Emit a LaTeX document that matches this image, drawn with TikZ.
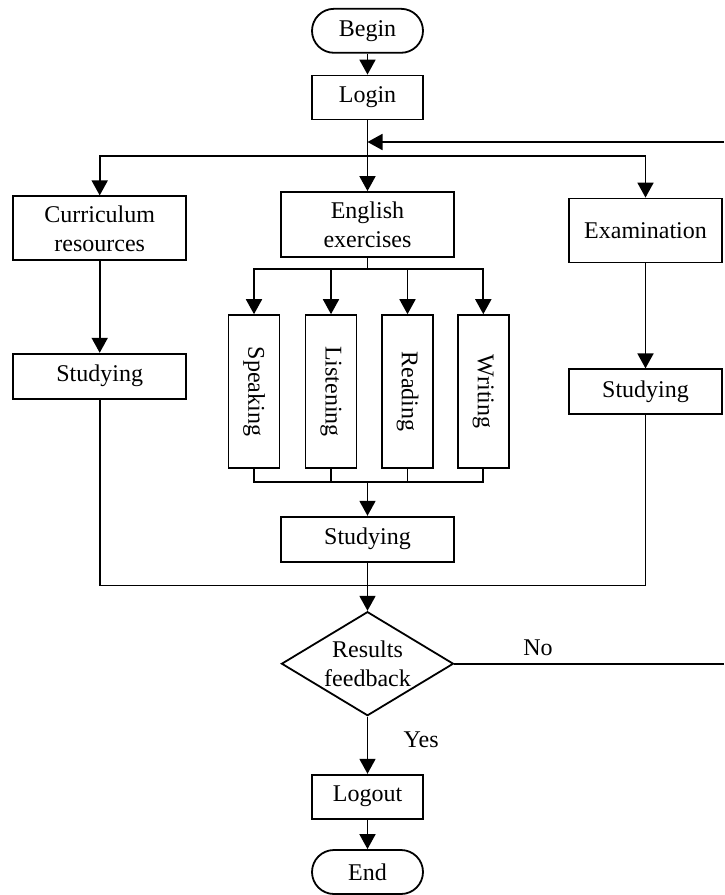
\documentclass[tikz,border=0pt]{standalone}
\usepackage{fontspec}
\setmainfont{Liberation Serif}
\usepackage{tikz}
\usetikzlibrary{shapes,shapes.geometric,arrows.meta}
\tikzstyle{block}    = [rectangle,
                        draw,
                        align=center,
                        inner sep=0pt]
\tikzstyle{term}     = [block,
                        rounded corners=22pt,
                        minimum width=111pt,
                        minimum height=44pt]
\tikzstyle{skill}    = [block,
                        rotate=-90,
                        minimum width=153pt,
                        minimum height=51pt]
\tikzstyle{line}     = [draw, -{Triangle[length=15pt,width=16pt]}]

\begin{document}
\begin{tikzpicture}[%
  x=1pt,
  y=-1pt,
  line width=1.8pt,
  every node/.style={font=\fontsize{24}{29}\selectfont},
  % Decision shape:
  decision/.style={%
    draw,
    diamond,
    align=center,
    aspect=1.66,
    inner sep=0pt,
    minimum width=172pt,
    minimum height=104pt
  }
  ]
  \useasboundingbox (0,0) rectangle (724,895);

  % Nodes:
  \node (f-begin) [term] at (367.5,30.8) {Begin};
  \node (f-login) [block, minimum width=111pt, minimum height=44pt] at (367.5,97.5) {Login};

  \node (f-curric) [block, minimum width=173pt, minimum height=64pt] at (99.7,228.3) {Curriculum\\resources};
  \node (f-english) [block, minimum width=173pt, minimum height=65pt] at (367.5,224.5) {English\\exercises};
  \node (f-exam) [block, minimum width=153pt, minimum height=64pt] at (645.5,230.5) {Examination};

  \node (f-speak) [skill] at (254,391.6) {Speaking};
  \node (f-listen) [skill] at (331,391.6) {Listening};
  \node (f-read) [skill] at (407.5,391.6) {Reading};
  \node (f-write) [skill] at (483.3,391.6) {Writing};

  \node (f-study-l) [block, minimum width=173pt, minimum height=45pt] at (99.7,376.2) {Studying};
  \node (f-study-m) [block, minimum width=173pt, minimum height=45pt] at (367.5,539.2) {Studying};
  \node (f-study-r) [block, minimum width=153pt, minimum height=45pt] at (645.5,391.8) {Studying};

  \node (f-feedback) [decision] at (367.5,663.7) {Results\\feedback};
  \node (f-logout) [block, minimum width=111pt, minimum height=44pt] at (367.5,796.7) {Logout};
  \node (f-end) [term] at (367.5,872) {End};

  \coordinate (f-split) at (367.5,155.7);
  \coordinate (f-sub-split) at (367.5,269);
  \coordinate (f-sub-merge) at (367.5,481.7);
  \coordinate (f-merge) at (367.5,585.5);
  \coordinate (f-return) at (724,142);
  \coordinate (f-no) at (724,663.7);

  % Connectors:
  \draw[line] (f-begin) -- (f-login);
  \draw[line] (f-login) -- (f-english);
  \draw[line] (f-return) -- (f-return -| f-login);
  \draw[line] (f-split) -| (f-curric);
  \draw[line] (f-split) -| (f-exam);

  \draw (f-english) -- (f-sub-split);
  \foreach \s in {speak, listen, read, write}
    \draw[line] (f-sub-split) -| (f-\s.west);
  \foreach \s in {speak, listen, read, write}
    \draw (f-\s.east) |- (f-sub-merge);
  \draw[line] (f-sub-merge) -- (f-study-m);

  \draw[line] (f-curric) -- (f-study-l);
  \draw[line] (f-exam) -- (f-study-r);

  \draw (f-study-l) |- (f-merge);
  \draw (f-study-r) |- (f-merge);
  \draw (f-study-m) -- (f-merge);
  \draw[line] (f-merge) -- (f-feedback);

  \draw (f-feedback.east) -- node[pos=0.31, above=4pt] {No} (f-no);
  \draw[line] (f-feedback) -- node[pos=0.4, right=32pt] {Yes} (f-logout);
  \draw[line] (f-logout) -- (f-end);
\end{tikzpicture}
\end{document}
